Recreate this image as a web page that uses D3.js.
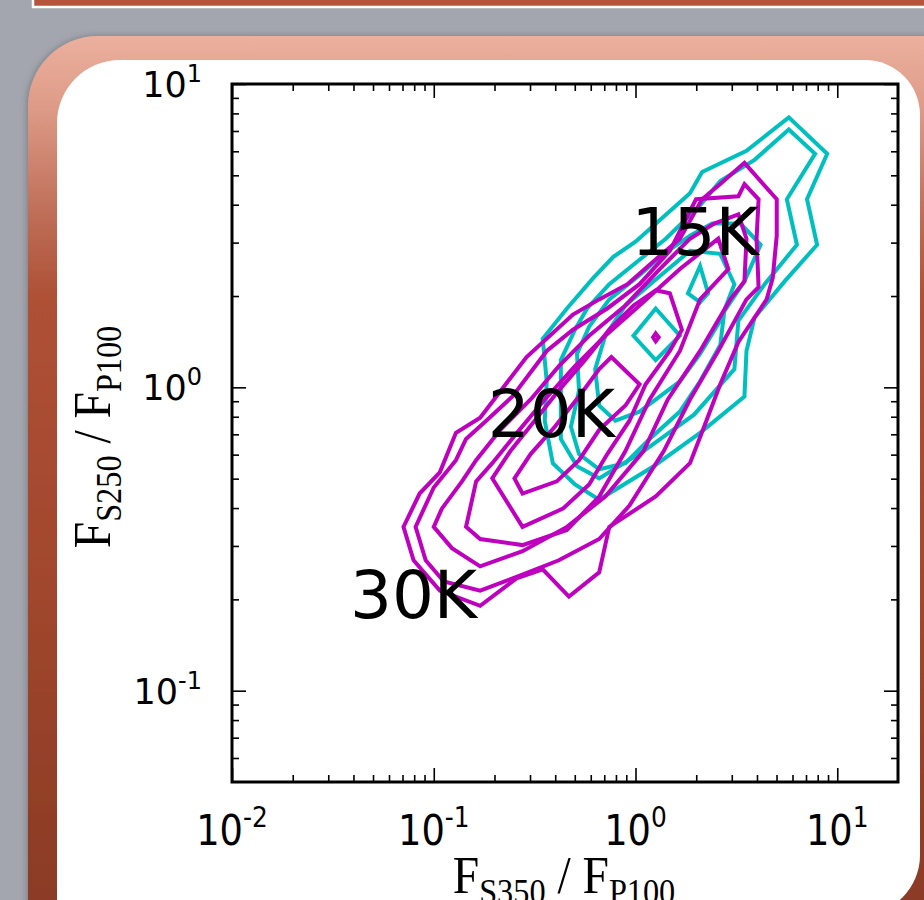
<!DOCTYPE html>
<html>
<head>
<meta charset="utf-8">
<script src="https://cdn.jsdelivr.net/npm/d3@7/dist/d3.min.js"></script>
<style>
  html, body { margin: 0; padding: 0; background: #a3a6ae; overflow: hidden; }
  svg { display: block; }
</style>
</head>
<body>
<svg id="chart" width="924" height="900"></svg>
<script>
/* --------------------------------------------------------------
DATOS — contornos (log10 de los cocientes)
[log10(F_S350/F_P100), log10(F_S250/F_P100)]
-------------------------------------------------------------- */

const xDomain = [0.01, 20];
const yDomain = [0.05, 10];

const xMajorTicks = [0.01, 0.1, 1, 10];
const yMajorTicks = [0.1, 1, 10];
const xTickLabels = ["-2", "-1", "0", "1"];
const yTickLabels = ["-1", "0", "1"];

// cian (nivel exterior -> interior)
const cyan1 = [[0.76,0.89],[0.95,0.77],[0.85,0.62],[0.90,0.47],[0.74,0.35],[0.59,0.23],[0.55,0.12],[0.54,-0.03],[0.32,-0.15],[0.09,-0.26],[-0.18,-0.37],[-0.30,-0.32],[-0.41,-0.25],[-0.45,-0.11],[-0.44,0.02],[-0.46,0.16],[-0.34,0.26],[-0.21,0.36],[-0.11,0.43],[0.00,0.48],[0.27,0.64],[0.33,0.71],[0.55,0.78]];
const cyan2 = [[0.76,0.85],[0.89,0.77],[0.75,0.62],[0.80,0.47],[0.64,0.34],[0.51,0.22],[0.49,0.06],[0.29,-0.09],[0.04,-0.21],[-0.18,-0.30],[-0.29,-0.26],[-0.37,-0.17],[-0.37,-0.04],[-0.37,0.09],[-0.30,0.19],[-0.24,0.26],[-0.13,0.34],[0.00,0.41],[0.15,0.49],[0.32,0.60],[0.42,0.68],[0.59,0.75]];
const cyan3 = [[0.38,0.54],[0.52,0.54],[0.62,0.47],[0.54,0.35],[0.44,0.25],[0.42,0.14],[0.32,0.02],[0.22,-0.08],[0.07,-0.17],[-0.05,-0.25],[-0.18,-0.27],[-0.28,-0.22],[-0.32,-0.13],[-0.28,-0.01],[-0.29,0.11],[-0.23,0.20],[-0.13,0.29],[0.02,0.37],[0.14,0.44],[0.27,0.50]];
const cyan4 = [[0.27,0.45],[0.42,0.44],[0.49,0.34],[0.42,0.22],[0.32,0.11],[0.22,0.02],[0.02,-0.08],[-0.10,-0.11],[-0.18,-0.06],[-0.20,0.06],[-0.15,0.17],[-0.05,0.27],[0.09,0.35]];
const cyan5 = [[0.10,0.26],[0.22,0.17],[0.10,0.09],[-0.01,0.17]];
const cyan6 = [[0.32,0.40],[0.36,0.31],[0.32,0.28],[0.26,0.31]];

// magenta (nivel exterior -> interior)
const magenta1 = [[0.54,0.74],[0.70,0.62],[0.70,0.50],[0.68,0.36],[0.65,0.29],[0.51,0.15],[0.42,0.01],[0.34,-0.13],[0.27,-0.25],[0.10,-0.36],[-0.13,-0.46],[-0.18,-0.61],[-0.33,-0.69],[-0.46,-0.60],[-0.59,-0.63],[-0.77,-0.72],[-0.97,-0.67],[-1.10,-0.57],[-1.15,-0.46],[-1.07,-0.35],[-0.97,-0.28],[-0.89,-0.15],[-0.77,-0.10],[-0.54,0.10],[-0.31,0.24],[-0.18,0.29],[-0.04,0.34],[0.08,0.41],[0.22,0.49],[0.33,0.62],[0.42,0.67]];
const magenta2 = [[0.54,0.67],[0.61,0.62],[0.60,0.49],[0.61,0.33],[0.55,0.29],[0.41,0.12],[0.27,-0.04],[0.14,-0.21],[-0.03,-0.39],[-0.18,-0.50],[-0.38,-0.57],[-0.57,-0.62],[-0.77,-0.67],[-0.95,-0.64],[-1.04,-0.57],[-1.09,-0.46],[-1.00,-0.33],[-0.89,-0.24],[-0.84,-0.17],[-0.74,-0.11],[-0.61,-0.03],[-0.44,0.12],[-0.31,0.19],[-0.14,0.26],[0.02,0.34],[0.17,0.45],[0.30,0.62],[0.51,0.63]];
const magenta3 = [[0.51,0.57],[0.55,0.49],[0.54,0.35],[0.47,0.29],[0.32,0.12],[0.16,-0.04],[0.04,-0.21],[-0.15,-0.36],[-0.34,-0.46],[-0.56,-0.54],[-0.77,-0.59],[-0.91,-0.53],[-1.00,-0.46],[-0.96,-0.40],[-0.86,-0.31],[-0.79,-0.24],[-0.67,-0.14],[-0.52,-0.04],[-0.38,0.07],[-0.23,0.17],[-0.05,0.27],[0.12,0.39],[0.27,0.49],[0.39,0.54]];
const magenta4 = [[0.41,0.49],[0.46,0.39],[0.32,0.29],[0.22,0.12],[0.07,-0.04],[-0.05,-0.21],[-0.18,-0.36],[-0.34,-0.47],[-0.56,-0.52],[-0.77,-0.50],[-0.84,-0.46],[-0.79,-0.31],[-0.71,-0.25],[-0.60,-0.16],[-0.45,-0.04],[-0.30,0.07],[-0.15,0.17],[0.02,0.27],[0.22,0.39]];
const magenta5 = [[0.10,0.32],[0.17,0.31],[0.23,0.19],[0.17,0.12],[0.05,0.01],[-0.03,-0.11],[-0.14,-0.22],[-0.23,-0.32],[-0.36,-0.40],[-0.56,-0.46],[-0.71,-0.30],[-0.62,-0.21],[-0.50,-0.11],[-0.38,-0.01],[-0.25,0.09],[-0.13,0.19],[-0.01,0.27]];
const magenta6 = [[-0.12,0.10],[0.02,0.01],[-0.05,-0.06],[-0.18,-0.14],[-0.28,-0.24],[-0.39,-0.31],[-0.56,-0.35],[-0.60,-0.30],[-0.52,-0.22],[-0.40,-0.13],[-0.28,-0.03],[-0.18,0.06]];
const magenta7 = [[0.10,0.178],[0.115,0.165],[0.10,0.152],[0.087,0.165]];

const cyanLevels = [cyan1, cyan2, cyan3, cyan4, cyan5, cyan6];
const magentaLevels = [magenta1, magenta2, magenta3, magenta4, magenta5, magenta6, magenta7];

// etiquetas de temperatura (posicion en unidades de los datos)
const tempLabels = ["15K", "20K", "30K"];
const tempLabelX = [0.955, 0.185, 0.0384];
const tempLabelY = [2.73, 0.684, 0.174];

/* --------------------------------------------------------------
LIENZO Y MARCO DE LA DIAPOSITIVA
-------------------------------------------------------------- */

const svg = d3.select("#chart");
const defs = svg.append("defs");

const grad = defs.append("linearGradient")
    .attr("id", "frameGrad")
    .attr("gradientUnits", "userSpaceOnUse")
    .attr("x1", 0).attr("y1", 36)
    .attr("x2", 0).attr("y2", 900);

[["0", "#ebb09e"], ["0.08", "#de9c88"], ["0.2", "#c0705a"], ["0.3", "#ae5136"], ["0.6", "#a3482e"], ["1", "#8b3b25"]]
    .forEach(s => grad.append("stop").attr("offset", s[0]).attr("stop-color", s[1]));

const shadow = defs.append("filter").attr("id", "shadow").attr("x", "-10%").attr("y", "-10%").attr("width", "120%").attr("height", "120%");
shadow.append("feDropShadow")
    .attr("dx", -1).attr("dy", 0)
    .attr("stdDeviation", 3)
    .attr("flood-color", "#5e6168")
    .attr("flood-opacity", 0.6);

// banda del titulo (cortada arriba)
svg.append("rect")
    .attr("x", 33).attr("y", -12)
    .attr("width", 920).attr("height", 19)
    .attr("fill", "#b5553b")
    .attr("stroke", "#ffffff")
    .attr("stroke-width", 2.5);

// marco redondeado
svg.append("rect")
    .attr("x", 28).attr("y", 36)
    .attr("width", 990).attr("height", 960)
    .attr("rx", 70)
    .attr("fill", "url(#frameGrad)")
    .attr("filter", "url(#shadow)");

// panel blanco
svg.append("path")
    .attr("d", "M57,123 A63,63 0 0 1 120,60 H865 A55,55 0 0 1 920,115 V855 A60,60 0 0 1 860,915 H57 Z")
    .attr("fill", "#ffffff");

/* --------------------------------------------------------------
ESCALAS
-------------------------------------------------------------- */

const plot = { left: 232, right: 898, top: 84, bottom: 782 };

const x = d3.scaleLog().domain(xDomain).range([plot.left, plot.right]);
const y = d3.scaleLog().domain(yDomain).range([plot.bottom, plot.top]);

function minorTicks(domain) {
    const out = [];
    for (let e = Math.floor(Math.log10(domain[0])); e <= Math.ceil(Math.log10(domain[1])); e++) {
        for (let m = 2; m <= 9; m++) {
            const v = m * Math.pow(10, e);
            if (v > domain[0] && v < domain[1]) out.push(v);
        }
    }
    return out;
}

/* --------------------------------------------------------------
CONTORNOS
-------------------------------------------------------------- */

defs.append("clipPath").attr("id", "plotClip")
    .append("rect")
    .attr("x", plot.left).attr("y", plot.top)
    .attr("width", plot.right - plot.left)
    .attr("height", plot.bottom - plot.top);

const contourLine = d3.line()
    .x(d => x(Math.pow(10, d[0])))
    .y(d => y(Math.pow(10, d[1])))
    .curve(d3.curveLinearClosed);

const gContours = svg.append("g").attr("clip-path", "url(#plotClip)");

gContours.selectAll("path.cyan")
    .data(cyanLevels)
    .enter()
    .append("path")
    .attr("class", "cyan")
    .attr("d", contourLine)
    .attr("fill", "none")
    .attr("stroke", "#00bfbf")
    .attr("stroke-width", 4)
    .attr("stroke-linejoin", "miter");

gContours.selectAll("path.magenta")
    .data(magentaLevels)
    .enter()
    .append("path")
    .attr("class", "magenta")
    .attr("d", contourLine)
    .attr("fill", "none")
    .attr("stroke", "#bf00bf")
    .attr("stroke-width", 4)
    .attr("stroke-linejoin", "miter");

/* --------------------------------------------------------------
EJES (ticks hacia dentro en los cuatro lados)
-------------------------------------------------------------- */

function addAxis(axisFn, scale, values, size, transform) {
    const g = svg.append("g")
        .attr("transform", transform)
        .call(axisFn(scale).tickValues(values).tickSize(-size).tickFormat(""));
    g.select(".domain").remove();
    g.selectAll(".tick line").attr("stroke", "#000").attr("stroke-width", 1.6);
}

const xMinor = minorTicks(xDomain);
const yMinor = minorTicks(yDomain);

addAxis(d3.axisBottom, x, xMajorTicks, 14, `translate(0,${plot.bottom})`);
addAxis(d3.axisBottom, x, xMinor, 7, `translate(0,${plot.bottom})`);
addAxis(d3.axisTop, x, xMajorTicks, 14, `translate(0,${plot.top})`);
addAxis(d3.axisTop, x, xMinor, 7, `translate(0,${plot.top})`);
addAxis(d3.axisLeft, y, yMajorTicks, 14, `translate(${plot.left},0)`);
addAxis(d3.axisLeft, y, yMinor, 7, `translate(${plot.left},0)`);
addAxis(d3.axisRight, y, yMajorTicks, 14, `translate(${plot.right},0)`);
addAxis(d3.axisRight, y, yMinor, 7, `translate(${plot.right},0)`);

svg.append("rect")
    .attr("x", plot.left).attr("y", plot.top)
    .attr("width", plot.right - plot.left)
    .attr("height", plot.bottom - plot.top)
    .attr("fill", "none")
    .attr("stroke", "#000")
    .attr("stroke-width", 3);

// etiquetas 10^n
const xLab = svg.append("g")
    .attr("font-family", "DejaVu Sans")
    .attr("font-size", 40)
    .attr("fill", "#000");

xLab.selectAll("text")
    .data(xMajorTicks)
    .enter()
    .append("text")
    .attr("transform", d => `translate(${x(d)},${plot.bottom + 63}) scale(0.92,1.08)`)
    .attr("text-anchor", "middle")
    .each(function (d, i) {
        const t = d3.select(this);
        t.append("tspan").text("10");
        t.append("tspan").attr("font-size", 27).attr("dy", -17).text(xTickLabels[i]);
    });

const yLab = svg.append("g")
    .attr("font-family", "DejaVu Sans")
    .attr("font-size", 35)
    .attr("fill", "#000");

yLab.selectAll("text")
    .data(yMajorTicks)
    .enter()
    .append("text")
    .attr("x", plot.left - 30)
    .attr("y", d => y(d) + 13)
    .attr("text-anchor", "end")
    .each(function (d, i) {
        const t = d3.select(this);
        t.append("tspan").text("10");
        t.append("tspan").attr("font-size", 24).attr("dy", -15).text(yTickLabels[i]);
    });

/* --------------------------------------------------------------
TITULOS DE LOS EJES
-------------------------------------------------------------- */

function ratioLabel(sel, sub1, sub2) {
    sel.append("tspan").text("F");
    sel.append("tspan").attr("font-size", 34).attr("dy", 10).text(sub1);
    sel.append("tspan").attr("dy", -10).text(" / F");
    sel.append("tspan").attr("font-size", 34).attr("dy", 10).text(sub2);
}

svg.append("text")
    .attr("font-family", "Liberation Serif")
    .attr("font-size", 50)
    .attr("text-anchor", "middle")
    .attr("transform", "translate(564,893) scale(0.95,1.05)")
    .call(ratioLabel, "S350", "P100");

svg.append("text")
    .attr("font-family", "Liberation Serif")
    .attr("font-size", 50)
    .attr("text-anchor", "middle")
    .attr("transform", "translate(110,437) rotate(-90) scale(0.95,1.05)")
    .call(ratioLabel, "S250", "P100");

/* --------------------------------------------------------------
ETIQUETAS DE TEMPERATURA
-------------------------------------------------------------- */

svg.append("g")
    .selectAll("text")
    .data(tempLabels)
    .enter()
    .append("text")
    .attr("x", (d, i) => x(tempLabelX[i]))
    .attr("y", (d, i) => y(tempLabelY[i]))
    .attr("font-family", "DejaVu Sans")
    .attr("font-size", 66)
    .attr("fill", "#000")
    .text(d => d);
</script>
</body>
</html>
